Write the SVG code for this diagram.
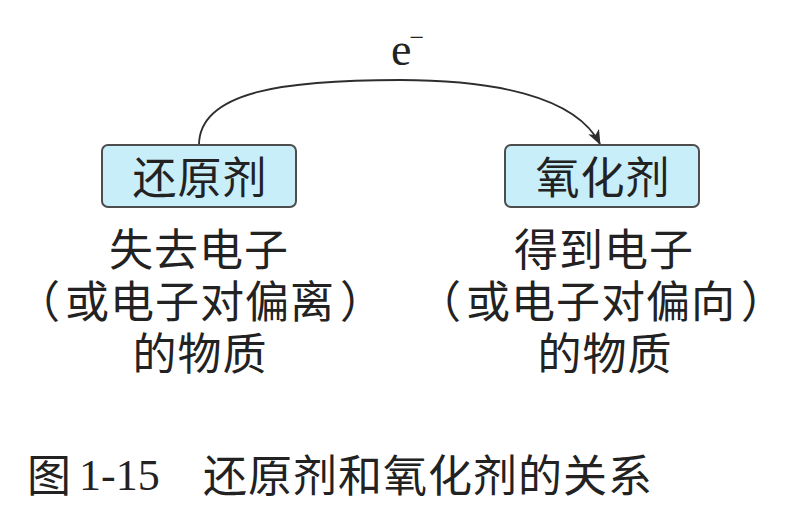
<svg xmlns="http://www.w3.org/2000/svg" width="787" height="528" viewBox="0 0 787 528">
  <style>
    .cjk { font-family: "Noto Sans CJK SC", "Noto Sans CJK JP", sans-serif; fill: #222; font-size: 44px; letter-spacing: 1px; }
    .mid { text-anchor: middle; }
    .box { fill: #c8eef9; stroke: #4d4d4d; stroke-width: 2; }
    .conn { fill: none; stroke: #2e2e2e; stroke-width: 1.8; }
    .ser { font-family: "Liberation Serif", "Times New Roman", serif; fill: #222; }
  </style>
  <defs>
    <marker id="arrow" viewBox="0 0 15 12" refX="14" refY="6" markerWidth="15" markerHeight="12" markerUnits="userSpaceOnUse" orient="auto">
      <path d="M0,0 L15,6 L0,12 L4,6 Z" fill="#2e2e2e"/>
    </marker>
  </defs>

  <g id="connectors">
    <path class="conn" d="M199,145 C199,90 290,80 400,80 C490,80 575,95 600,144" marker-end="url(#arrow)"/>
    <text id="e-label" class="ser" x="391" y="65" font-size="46">e<tspan font-size="26" dx="-2" dy="-19.5">−</tspan></text>
  </g>

  <g id="reducer">
    <rect class="box" x="102" y="145" width="194" height="62" rx="6"/>
    <text class="cjk mid" x="200" y="194">还原剂</text>
  </g>

  <g id="oxidizer">
    <rect class="box" x="505" y="145" width="194" height="62" rx="6"/>
    <text class="cjk mid" x="603" y="194">氧化剂</text>
  </g>

  <g id="reducer-desc">
    <text class="cjk mid" x="199" y="266">失去电子</text>
    <text class="cjk" x="16" y="318">（<tspan dx="4">或电子对偏离</tspan><tspan dx="5">）</tspan></text>
    <text class="cjk mid" x="200" y="370">的物质</text>
  </g>

  <g id="oxidizer-desc">
    <text class="cjk mid" x="604" y="266">得到电子</text>
    <text class="cjk" x="417" y="318">（<tspan dx="4">或电子对偏向</tspan><tspan dx="5">）</tspan></text>
    <text class="cjk mid" x="605" y="370">的物质</text>
  </g>

  <g id="caption">
    <text class="cjk" x="27" y="492">图</text>
    <text class="ser" x="79" y="490" font-size="44">1-15</text>
    <text class="cjk" x="203" y="492">还原剂和氧化剂的关系</text>
  </g>
</svg>
